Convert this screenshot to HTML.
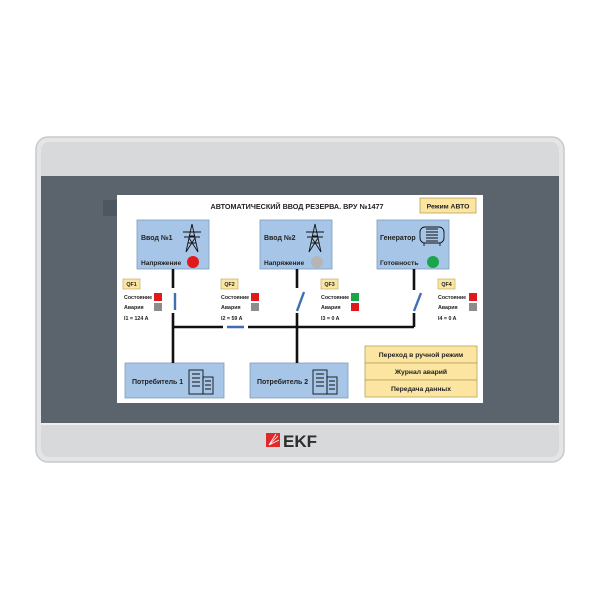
<!DOCTYPE html>
<html><head><meta charset="utf-8"><style>
html,body{margin:0;padding:0;background:#fff;width:600px;height:600px;overflow:hidden}
svg{display:block}
text{font-family:"Liberation Sans",sans-serif;font-weight:bold;fill:#222}
</style></head><body>
<svg width="600" height="600" viewBox="0 0 600 600" xmlns="http://www.w3.org/2000/svg">
<rect x="36" y="137" width="528" height="325" rx="12" fill="#e4e5e6" stroke="#c8c9ca" stroke-width="1.5"/>
<rect x="41" y="142" width="518" height="315" rx="8" fill="#d8d9da"/>
<rect x="41" y="176" width="518" height="247" fill="#5b646c"/>
<rect x="41" y="423" width="518" height="2" fill="#eeeeee"/>
<rect x="103" y="200" width="14" height="16" fill="#4e575f"/>
<rect x="117" y="195" width="366" height="208" fill="#ffffff"/>
<text x="297" y="209" font-size="7.2" text-anchor="middle">АВТОМАТИЧЕСКИЙ ВВОД РЕЗЕРВА. ВРУ №1477</text>
<rect x="420" y="198" width="56" height="15" fill="#fbe5a0" stroke="#b9a25a" stroke-width="0.8"/>
<text x="448" y="208.5" font-size="6.8" text-anchor="middle">Режим АВТО</text>
<g fill="#a7c5e6" stroke="#7f9cbd" stroke-width="0.8">
<rect x="137" y="220" width="72" height="49"/>
<rect x="260" y="220" width="72" height="49"/>
<rect x="377" y="220" width="72" height="49"/>
<rect x="125" y="363" width="99" height="35"/>
<rect x="250" y="363" width="98" height="35"/>
</g>
<text x="141" y="240" font-size="7">Ввод №1</text>
<text x="141" y="265" font-size="6.6">Напряжение</text>
<circle cx="193" cy="262" r="6" fill="#e01a1a"/>
<text x="264" y="240" font-size="7">Ввод №2</text>
<text x="264" y="265" font-size="6.6">Напряжение</text>
<circle cx="317" cy="262" r="6" fill="#b5b5b5"/>
<text x="380" y="240" font-size="7">Генератор</text>
<text x="380" y="265" font-size="6.8">Готовность</text>
<circle cx="433" cy="262" r="6" fill="#1aa54b"/>
<g stroke="#111" stroke-width="0.9" fill="none">
<path d="M186 252 L192 224 L198 252 M188 243 L196 243 M189 236 L195 236 M183 232 L201 232 M184 237 L200 237 M186 252 L195 238 M198 252 L189 238"/>
<path d="M309 252 L315 224 L321 252 M311 243 L319 243 M312 236 L318 236 M306 232 L324 232 M307 237 L323 237 M309 252 L318 238 M321 252 L312 238"/>
<rect x="420" y="227" width="24" height="16" rx="5"/>
<path d="M426 229 h12 M426 232 h12 M426 235 h12 M426 238 h12 M426 241 h12 M424 243 v3 M440 243 v3"/>
</g>
<g stroke="#111" stroke-width="2.6" fill="none">
<path d="M173 269 V288 M173 313 V363"/>
<path d="M297 269 V288 M297 313 V363"/>
<path d="M414 269 V290 M414 313 V327"/>
<path d="M173 327 H223 M248 327 H414"/>
</g>
<g stroke="#3e6fb3" stroke-width="2.4">
<path d="M175 293 V310"/>
<path d="M297 311 L304 292"/>
<path d="M414 311 L421 293"/>
<path d="M227 327 H244"/>
</g>
<g font-size="5.3">
<g>
<rect x="123" y="279" width="17" height="10" fill="#fbe5a0" stroke="#b9a25a" stroke-width="0.6"/><text x="131.5" y="286" text-anchor="middle">QF1</text>
<text x="124" y="299">Состояние</text><text x="124" y="309">Авария</text><text x="124" y="320">I1 = 124 A</text>
<rect x="154" y="293" width="8" height="8" fill="#e01a1a"/><rect x="154" y="303" width="8" height="8" fill="#8c8c8c"/>
</g>
<g>
<rect x="221" y="279" width="17" height="10" fill="#fbe5a0" stroke="#b9a25a" stroke-width="0.6"/><text x="229.5" y="286" text-anchor="middle">QF2</text>
<text x="221" y="299">Состояние</text><text x="221" y="309">Авария</text><text x="221" y="320">I2 = 59 A</text>
<rect x="251" y="293" width="8" height="8" fill="#e01a1a"/><rect x="251" y="303" width="8" height="8" fill="#8c8c8c"/>
</g>
<g>
<rect x="321" y="279" width="17" height="10" fill="#fbe5a0" stroke="#b9a25a" stroke-width="0.6"/><text x="329.5" y="286" text-anchor="middle">QF3</text>
<text x="321" y="299">Состояние</text><text x="321" y="309">Авария</text><text x="321" y="320">I3 = 0 A</text>
<rect x="351" y="293" width="8" height="8" fill="#1aa54b"/><rect x="351" y="303" width="8" height="8" fill="#e01a1a"/>
</g>
<g>
<rect x="438" y="279" width="17" height="10" fill="#fbe5a0" stroke="#b9a25a" stroke-width="0.6"/><text x="446.5" y="286" text-anchor="middle">QF4</text>
<text x="438" y="299">Состояние</text><text x="438" y="309">Авария</text><text x="438" y="320">I4 = 0 A</text>
<rect x="469" y="293" width="8" height="8" fill="#e01a1a"/><rect x="469" y="303" width="8" height="8" fill="#8c8c8c"/>
</g>
</g>
<text x="132" y="384" font-size="7">Потребитель 1</text>
<text x="257" y="384" font-size="7">Потребитель 2</text>
<g stroke="#111" stroke-width="0.9" fill="none">
<rect x="189" y="370" width="14" height="24"/><rect x="203" y="377" width="10" height="17"/>
<path d="M192 374h8M192 378h8M192 382h8M192 386h8M205 381h6M205 385h6M205 389h6"/>
<rect x="313" y="370" width="14" height="24"/><rect x="327" y="377" width="10" height="17"/>
<path d="M316 374h8M316 378h8M316 382h8M316 386h8M329 381h6M329 385h6M329 389h6"/>
</g>
<g fill="#fbe5a0" stroke="#b9a25a" stroke-width="0.8">
<rect x="365" y="346" width="112" height="17"/>
<rect x="365" y="363" width="112" height="17"/>
<rect x="365" y="380" width="112" height="17"/>
</g>
<text x="421" y="357" font-size="6.8" text-anchor="middle">Переход в ручной режим</text>
<text x="421" y="374" font-size="6.8" text-anchor="middle">Журнал аварий</text>
<text x="421" y="391" font-size="6.8" text-anchor="middle">Передача данных</text>
<rect x="266" y="433" width="14" height="14" fill="#e0292b"/>
<path d="M269 445 L278 436 M269 445 L276 434 M269 445 L279 440" stroke="#fff" stroke-width="0.8"/>
<text x="283" y="447" font-size="17" font-weight="bold" style="fill:#2d2d2d;font-family:'Liberation Sans',sans-serif">EKF</text>
</svg>
</body></html>
